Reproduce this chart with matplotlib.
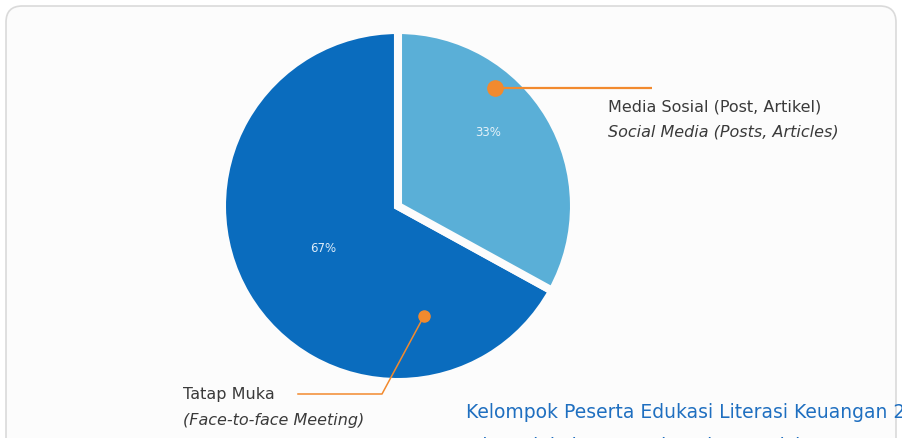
import matplotlib
matplotlib.use("Agg")
import matplotlib.pyplot as plt
from matplotlib.patches import FancyBboxPatch

labels = ["Tatap Muka", "Media Sosial"]
values = [67, 33]
colors = ["#0A6CBE", "#5AAFD7"]
pct_text = ["67%", "33%"]

label_main = ["Tatap Muka", "Media Sosial (Post, Artikel)"]
label_en = ["(Face-to-face Meeting)", "Social Media (Posts, Articles)"]

orange = "#F28A2E"
grey = "#3A3A3A"

W, H = 902, 438
fig = plt.figure(figsize=(W / 100, H / 100), dpi=100)
fig.patch.set_facecolor("#FFFFFF")

# card behind everything
card = FancyBboxPatch((6 / W, -0.2), 890 / W, 1.2 - 6 / H,
                      boxstyle="round,pad=0,rounding_size=0.018",
                      transform=fig.transFigure, facecolor="#FCFCFC",
                      edgecolor="#DADADA", linewidth=1.2, mutation_aspect=W / H,
                      zorder=-10)
fig.patches.append(card)

R = 176
cx, cy = 398, 206
ax = fig.add_axes([(cx - R) / W, (H - cy - R) / H, 2 * R / W, 2 * R / H])
ax.set_zorder(1)
ax.patch.set_visible(False)
ax.axis("off")

wedges, _ = ax.pie(values, colors=colors, startangle=90, counterclock=True,
                   radius=1, wedgeprops=dict(edgecolor="#FCFCFC", linewidth=5.8))
ax.set_xlim(-1, 1)
ax.set_ylim(-1, 1)


def px(x, y):
    return ((x - cx) / R, (cy - y) / R)


# percentage labels
p = px(323, 249)
ax.text(p[0], p[1], pct_text[0], color="#DCEBF8", fontsize=8.5,
        ha="center", va="center")
p = px(488, 133)
ax.text(p[0], p[1], pct_text[1], color="#E4F1F8", fontsize=8.5,
        ha="center", va="center")

# leader for Media Sosial
d1 = px(495, 88)
e1 = px(652, 88)
ax.plot([d1[0], e1[0]], [d1[1], e1[1]], color=orange, lw=1.6,
        clip_on=False, solid_capstyle="butt")
ax.plot(*d1, "o", color=orange, ms=11, clip_on=False)
t = px(608, 107)
ax.text(t[0], t[1], label_main[1], color=grey, fontsize=11.5,
        ha="left", va="center", clip_on=False)
t = px(608, 132)
ax.text(t[0], t[1], label_en[1], color=grey, fontsize=11.5, style="italic",
        ha="left", va="center", clip_on=False)

# leader for Tatap Muka
d2 = px(424, 316)
m2 = px(382, 394)
e2 = px(298, 394)
ax.plot([d2[0], m2[0], e2[0]], [d2[1], m2[1], e2[1]], color=orange, lw=1.1,
        clip_on=False)
ax.plot(*d2, "o", color=orange, ms=8, clip_on=False)
t = px(183, 394)
ax.text(t[0], t[1], label_main[0], color=grey, fontsize=11.5,
        ha="left", va="center", clip_on=False)
t = px(183, 420)
ax.text(t[0], t[1], label_en[0], color=grey, fontsize=11.5, style="italic",
        ha="left", va="center", clip_on=False)

# caption (cut off by the card edge like in the source)
fig.text(466 / W, (H - 413) / H, "Kelompok Peserta Edukasi Literasi Keuangan 2022",
         color="#1F6FC0", fontsize=13.5, ha="left", va="center")
fig.text(470 / W, (H - 446) / H, "Financial Literacy Education Participant Groups 2022",
         color="#1F6FC0", fontsize=13.5, style="italic", ha="left", va="center")

fig.savefig("out.png", dpi=100, facecolor=fig.get_facecolor())
